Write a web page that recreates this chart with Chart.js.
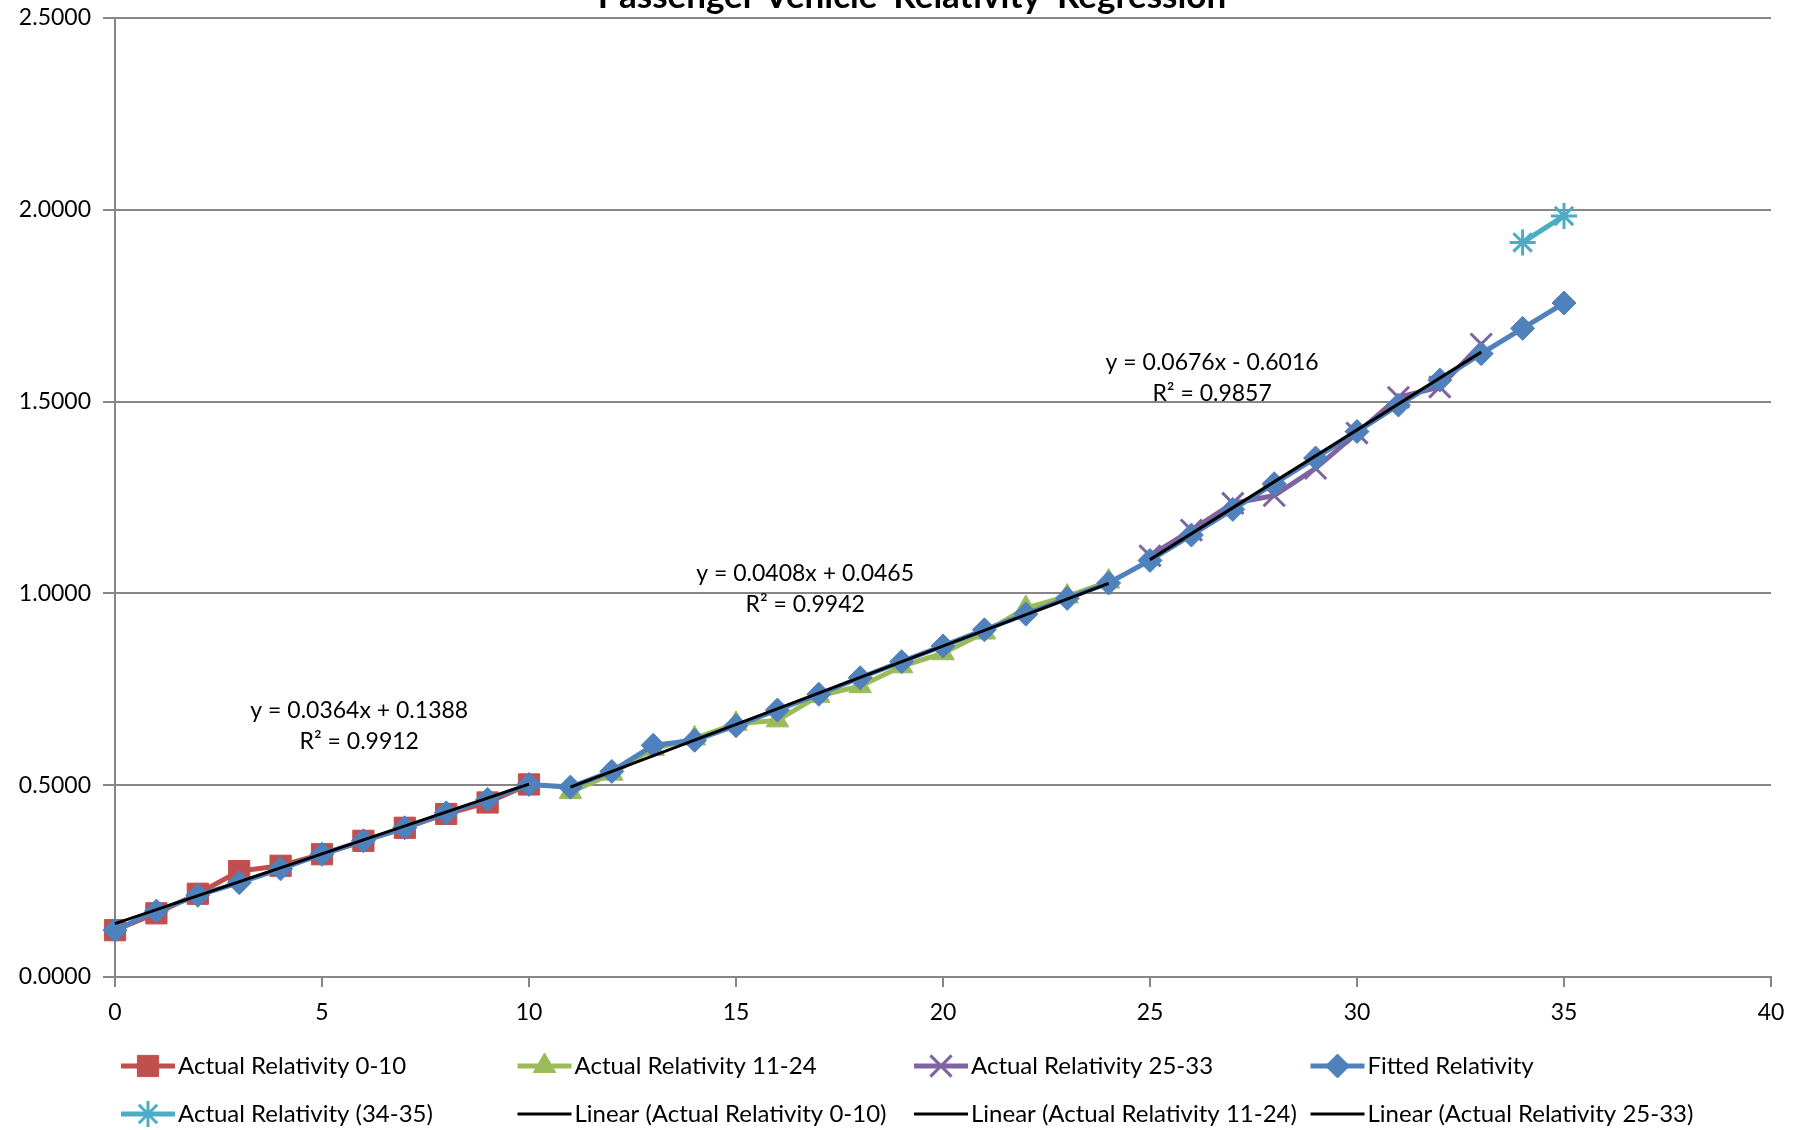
<!DOCTYPE html>
<html>
<head>
<meta charset="utf-8">
<title>Passenger Vehicle 'Relativity' Regression</title>
<script src="https://cdn.jsdelivr.net/npm/chart.js@4.4.0/dist/chart.umd.min.js"></script>
<style>
  body { margin: 0; background: #fff; }
  #wrap { width: 1803px; height: 1130px; }
</style>
</head>
<body>
<div id="wrap"><canvas id="relChart" width="1803" height="1130"></canvas></div>
<script>

// ===============================
// DATA
// ===============================

const chartTitle = "Passenger Vehicle 'Relativity' Regression";

const xAge010 = [0, 1, 2, 3, 4, 5, 6, 7, 8, 9, 10];
const actual010 = [0.122, 0.166, 0.217, 0.276, 0.290, 0.320, 0.355, 0.389, 0.425, 0.455, 0.502];

const xAge1124 = [11, 12, 13, 14, 15, 16, 17, 18, 19, 20, 21, 22, 23, 24];
const actual1124 = [0.482, 0.530, 0.595, 0.622, 0.660, 0.669, 0.733, 0.758, 0.810, 0.844, 0.898, 0.962, 0.992, 1.031];

const xAge2533 = [25, 26, 27, 28, 29, 30, 31, 32, 33];
const actual2533 = [1.098, 1.165, 1.235, 1.255, 1.326, 1.418, 1.511, 1.538, 1.650];

const xAge3435 = [34, 35];
const actual3435 = [1.915, 1.984];

const xAgeFitted = [0, 1, 2, 3, 4, 5, 6, 7, 8, 9, 10, 11, 12, 13, 14, 15, 16, 17,
  18, 19, 20, 21, 22, 23, 24, 25, 26, 27, 28, 29, 30, 31, 32, 33, 34, 35];
const fitted = [0.122, 0.172, 0.213, 0.246, 0.282, 0.320, 0.355, 0.389, 0.428, 0.463, 0.502,
  0.495, 0.536, 0.604, 0.617, 0.655, 0.696, 0.737, 0.780, 0.822, 0.863, 0.905, 0.946, 0.987, 1.027,
  1.086, 1.152, 1.219, 1.286, 1.353, 1.422, 1.491, 1.556, 1.625, 1.691, 1.757];

// trend line end points
const xTrend010 = [0, 10];
const trend010 = [0.139, 0.503];
const xTrend1124 = [11, 24];
const trend1124 = [0.495, 1.026];
const xTrend2533 = [25, 33];
const trend2533 = [1.088, 1.629];

const eqLines = ["y = 0.0364x + 0.1388", "y = 0.0408x + 0.0465", "y = 0.0676x - 0.6016"];
const r2Lines = ["R\u00b2 = 0.9912", "R\u00b2 = 0.9942", "R\u00b2 = 0.9857"];

const xTicks = [0, 40, 5];
const yTicks = [0, 2.5, 0.5];


// ===============================
// LOOK
// ===============================

const FONT = "Lato, 'Open Sans', sans-serif";
const GRID = "#868686";

// where the equation labels sit (data space)
const eqAnchors = [
  { x: 5.9, y: 0.695, y2: 0.614 },
  { x: 16.67, y: 1.051, y2: 0.970 },
  { x: 26.5, y: 1.603, y2: 1.522 }
];

function pts(xs, ys) {
  return xs.map((x, i) => ({ x: x, y: ys[i] }));
}

function series(label, xs, ys, color, style, radius, width, order) {
  return {
    label: label,
    data: pts(xs, ys),
    showLine: true,
    borderColor: color,
    backgroundColor: color,
    borderWidth: width,
    pointStyle: style,
    pointRadius: radius,
    pointHoverRadius: radius,
    pointBorderColor: color,
    pointBackgroundColor: color,
    pointBorderWidth: style === 'crossRot' || style === 'star' ? 3 : 1,
    clip: false,
    order: order
  };
}

function trend(label, xs, ys) {
  return {
    label: label,
    data: pts(xs, ys),
    showLine: true,
    borderColor: '#000',
    backgroundColor: '#000',
    borderWidth: 3,
    pointRadius: 0,
    pointHoverRadius: 0,
    clip: false,
    order: 0
  };
}


// ===============================
// OVERLAY: title, equations, legend
// ===============================

const overlay = {
  id: 'overlay',
  afterDraw(chart) {
    const ctx = chart.ctx;
    const xs = chart.scales.x;
    const ys = chart.scales.y;
    ctx.save();

    // title (cut off by the top edge like the original)
    ctx.fillStyle = '#000';
    ctx.font = "bold 35px " + FONT;
    ctx.textAlign = 'center';
    ctx.textBaseline = 'alphabetic';
    ctx.fillText(chartTitle, 912, 8);

    // equations
    ctx.font = "23px " + FONT;
    ctx.textBaseline = 'middle';
    eqAnchors.forEach((a, i) => {
      const px = xs.getPixelForValue(a.x);
      ctx.fillText(eqLines[i], px, ys.getPixelForValue(a.y));
      ctx.fillText(r2Lines[i], px, ys.getPixelForValue(a.y2));
    });

    // legend, 4 columns x 2 rows
    ctx.font = "24px " + FONT;
    ctx.textAlign = 'left';
    chart.data.datasets.forEach((ds, i) => {
      const col = i % 4;
      const row = Math.floor(i / 4);
      const x0 = 121 + col * 396.5;
      const y0 = row === 0 ? 1066 : 1114;

      ctx.strokeStyle = ds.borderColor;
      ctx.lineWidth = ds.borderWidth;
      ctx.beginPath();
      ctx.moveTo(x0, y0);
      ctx.lineTo(x0 + 54, y0);
      ctx.stroke();

      if (ds.pointRadius > 0) {
        ctx.fillStyle = ds.pointBackgroundColor;
        ctx.strokeStyle = ds.pointBorderColor;
        ctx.lineWidth = ds.pointBorderWidth;
        Chart.helpers.drawPoint(ctx, {
          pointStyle: ds.pointStyle,
          radius: ds.pointRadius,
          rotation: 0,
          borderWidth: ds.pointBorderWidth
        }, x0 + 27, y0);
      }

      ctx.fillStyle = '#000';
      ctx.fillText(ds.label, x0 + 57, y0);
    });

    ctx.restore();
  }
};


// ===============================
// CHART
// ===============================

const relChart = new Chart(document.getElementById('relChart'), {
  type: 'scatter',
  data: {
    datasets: [
      series('Actual Relativity 0-10', xAge010, actual010, '#C0504D', 'rect', 15, 5, 6),
      series('Actual Relativity 11-24', xAge1124, actual1124, '#9BBB59', 'triangle', 13, 5, 5),
      series('Actual Relativity 25-33', xAge2533, actual2533, '#8064A2', 'crossRot', 15, 5, 4),
      series('Fitted Relativity', xAgeFitted, fitted, '#4F81BD', 'rectRot', 12, 5, 3),
      series('Actual Relativity (34-35)', xAge3435, actual3435, '#4BACC6', 'star', 13, 5, 2),
      trend('Linear (Actual Relativity 0-10)', xTrend010, trend010),
      trend('Linear (Actual Relativity 11-24)', xTrend1124, trend1124),
      trend('Linear (Actual Relativity 25-33)', xTrend2533, trend2533)
    ]
  },
  options: {
    responsive: false,
    animation: false,
    layout: { padding: { top: 12, right: 32, bottom: 93, left: 0 } },
    plugins: {
      legend: { display: false },
      tooltip: { enabled: false }
    },
    scales: {
      x: {
        type: 'linear',
        min: xTicks[0],
        max: xTicks[1],
        ticks: {
          stepSize: xTicks[2],
          color: '#000',
          padding: 12,
          font: { family: FONT, size: 23 }
        },
        grid: { drawOnChartArea: false, drawTicks: true, tickLength: 10, color: GRID, lineWidth: 2 },
        border: { display: true, color: GRID, width: 2 },
        afterFit: s => { s.height = 60; s.paddingLeft = 0; s.paddingRight = 0; }
      },
      y: {
        min: yTicks[0],
        max: yTicks[1],
        ticks: {
          stepSize: yTicks[2],
          color: '#000',
          padding: 12,
          font: { family: FONT, size: 23 },
          callback: v => Number(v).toFixed(4)
        },
        grid: { color: GRID, lineWidth: 2, tickLength: 12 },
        border: { display: true, color: GRID, width: 2 },
        afterFit: s => { s.width = 115; s.paddingTop = 0; s.paddingBottom = 0; }
      }
    }
  },
  plugins: [overlay]
});
</script>
</body>
</html>
